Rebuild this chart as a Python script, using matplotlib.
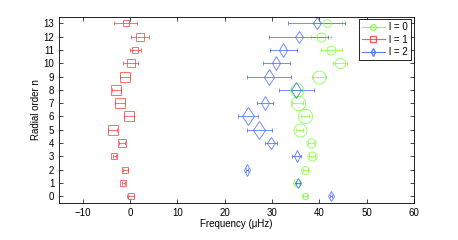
import matplotlib.pyplot as plt
import numpy as np

plt.rcParams['font.family'] = ['Liberation Sans', 'DejaVu Sans']

n = np.arange(14)

# l = 0 modes
freq_l0 = [37.0, 35.2, 37.0, 38.4, 38.2, 35.8, 37.0, 35.4, 35.2, 39.9, 44.3, 42.5, 40.4, 41.7]
err_l0 = [0.4, 0.4, 0.5, 0.6, 0.6, 0.8, 0.9, 1.2, 1.1, 1.4, 1.5, 2.2, 2.1, 3.0]
size_l0 = [5, 6, 6, 7, 7, 10, 11, 11, 10, 10, 8, 7, 7, 6]

# l = 1 modes
freq_l1 = [0.1, -1.4, -1.0, -3.3, -1.7, -3.7, -0.2, -2.1, -2.9, -1.1, 0.1, 1.1, 2.1, -0.9]
err_l1 = [0.8, 0.3, 0.5, 0.4, 0.6, 0.9, 1.0, 1.0, 1.0, 1.1, 1.5, 1.2, 1.8, 2.4]
size_l1 = [4, 4, 5, 5, 6, 8, 7, 7, 8, 7, 6, 5, 6, 5]

# l = 2 modes
freq_l2 = [42.4, 35.4, 24.7, 35.2, 29.8, 27.3, 24.9, 28.6, 35.1, 29.4, 30.9, 32.4, 35.6, 39.4]
err_l2 = [0.2, 0.4, 0.3, 1.0, 1.3, 2.6, 2.1, 1.7, 3.7, 4.6, 2.85, 2.9, 6.2, 6.0]
size_l2 = [5, 5, 6, 6, 7, 10, 10, 8, 9, 9, 8, 8, 7, 7]

fig = plt.figure(figsize=(4.58, 2.40), dpi=100)
ax = fig.add_axes([0.129, 0.154, 0.775, 0.777])

series = [
    (freq_l0, err_l0, size_l0, '#77ff33', 'o', 'l = 0'),
    (freq_l1, err_l1, size_l1, '#ff3f3f', 's', 'l = 1'),
    (freq_l2, err_l2, size_l2, '#4466ff', 'd', 'l = 2'),
]

for freq, err, sizes, col, mk, lab in series:
    for i in range(len(n)):
        ax.errorbar(freq[i], n[i], xerr=err[i], fmt=mk, ms=sizes[i] * 0.72 * 1.3,
                    mfc='none', mec=col, color=col, ecolor=col, elinewidth=0.7,
                    capsize=1.5, capthick=0.7, mew=0.7, alpha=0.75)
    ax.plot([], [], marker=mk, color=col, ms=4, mfc='none', lw=0.8, alpha=0.85, label=lab)

ax.set_xlim(-15, 60)
ax.set_ylim(-0.5, 13.5)
ax.set_xticks(np.arange(-10, 61, 10))
ax.set_yticks(n)
ax.tick_params(direction='in', top=True, right=True, labelsize=7, length=3, width=0.5)
for s in ax.spines.values():
    s.set_linewidth(0.6)
ax.set_xlabel('Frequency (μHz)', fontsize=7, labelpad=1)
ax.set_ylabel('Radial order n', fontsize=7, labelpad=2)
leg = ax.legend(loc='upper right', fontsize=7, fancybox=False, edgecolor='black',
                handlelength=2.3, handletextpad=0.5, borderpad=0.3, labelspacing=0.25,
                borderaxespad=0.3, framealpha=1)
leg.get_frame().set_linewidth(0.6)

fig.savefig('out.png', dpi=100)
